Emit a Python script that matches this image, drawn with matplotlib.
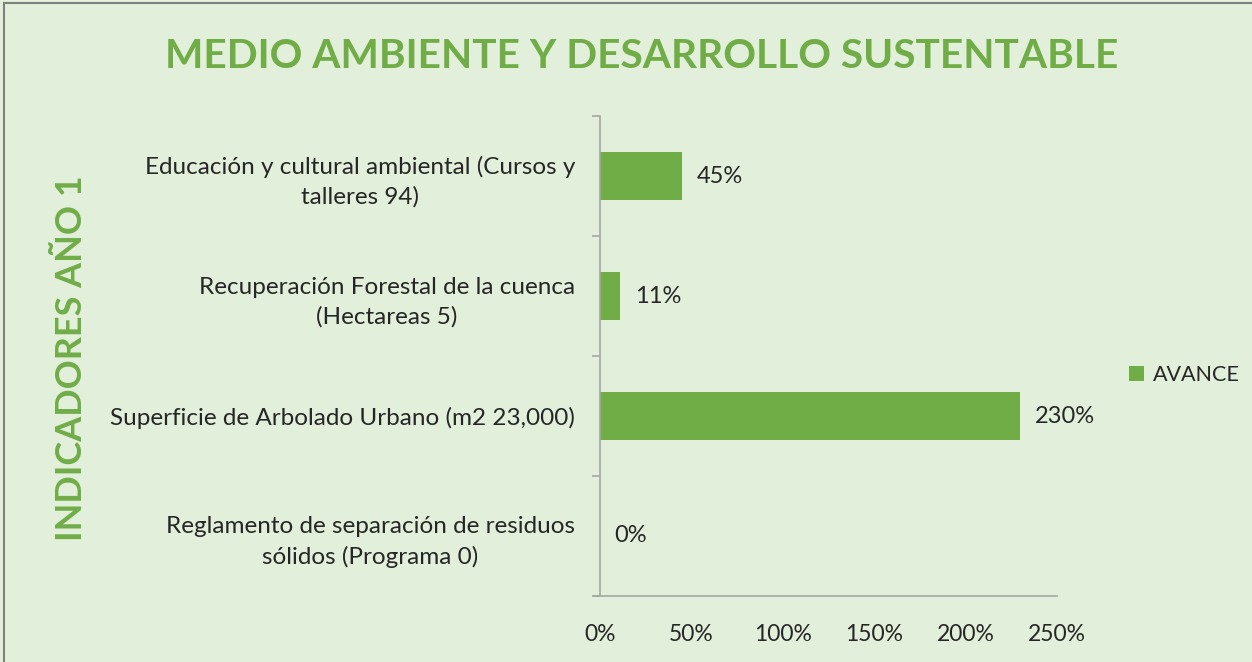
import matplotlib
matplotlib.use("Agg")
import matplotlib.pyplot as plt
from matplotlib.ticker import FuncFormatter, FixedLocator
from matplotlib.lines import Line2D
from matplotlib.patches import Patch

categories = [
    "Reglamento de separación de residuos\nsólidos (Programa 0)",
    "Superficie de Arbolado Urbano (m2 23,000)",
    "Recuperación Forestal de la cuenca\n(Hectareas 5)",
    "Educación y cultural ambiental (Cursos y\ntalleres 94)",
]
avance = [0.0, 2.30, 0.11, 0.45]
value_labels = ["0%", "230%", "11%", "45%"]
xticks = [0, 0.5, 1.0, 1.5, 2.0, 2.5]

BG = "#E2EFDA"
GREEN = "#70AD47"
FONT = "Lato"
TXT = "#262626"

fig = plt.figure(figsize=(12.52, 6.62), dpi=100, facecolor=BG)
ax = fig.add_axes([600/1252, 1-596/662, 457/1252, 480/662], facecolor=BG)

y = range(len(categories))
ax.barh(y, avance, height=0.4, color=GREEN, zorder=2)

for yi, v, lab in zip(y, avance, value_labels):
    ax.text(v + 0.08, yi, lab, va="center", ha="left", fontsize=17,
            family=FONT, color=TXT)

ax.set_xlim(0, 2.5)
ax.set_ylim(-0.5, len(categories) - 0.5)
ax.xaxis.set_major_locator(FixedLocator(xticks))
ax.xaxis.set_major_formatter(FuncFormatter(lambda v, p: f"{v*100:.0f}%"))
ax.tick_params(axis="x", length=0, pad=20, labelsize=16.5, labelcolor=TXT)
for t in ax.get_xticklabels():
    t.set_family(FONT)

ax.set_yticks(list(y))
ax.set_yticklabels(categories, family=FONT, fontsize=17.5, color=TXT,
                   ha="right", multialignment="center", linespacing=1.45)
ax.tick_params(axis="y", which="major", length=0, pad=18)
ax.set_yticks([i - 0.5 for i in range(len(categories) + 1)], minor=True)
ax.tick_params(axis="y", which="minor", length=6, width=1.2, color="#A6A6A6", direction="out")

for s in ["top", "right"]:
    ax.spines[s].set_visible(False)
ax.spines["left"].set_color("#A6A6A6")
ax.spines["left"].set_linewidth(1.2)
ax.spines["bottom"].set_color("#A6A6A6")
ax.spines["bottom"].set_linewidth(1.2)
ax.spines["bottom"].set_bounds(-0.035, 2.5)

title = fig.text(642/1252, 1-56/662, "MEDIO AMBIENTE Y DESARROLLO SUSTENTABLE",
                 ha="center", va="center", fontsize=30, fontweight="bold",
                 color=GREEN, family=FONT)
ylab = fig.text(72/1252, 1-358/662, "INDICADORES AÑO 1", rotation=90,
                ha="center", va="center", fontsize=26, fontweight="bold",
                color=GREEN, family=FONT)

handles = [Patch(facecolor=GREEN, edgecolor="none")]
fig.legend(handles, ["AVANCE"], loc="center left", bbox_to_anchor=(1110/1252, 1-375/662),
           frameon=False, prop={"family": FONT, "size": 15.5},
           handlelength=0.7, handleheight=0.7, handletextpad=0.4, labelcolor=TXT)

fig.add_artist(Line2D([4/1252, 1], [1-3/662, 1-3/662], color="#808080", lw=1.5))
fig.add_artist(Line2D([4/1252, 4/1252], [0, 1-3/662], color="#808080", lw=1.5))

# fit title width and vertical label length to the reference
fig.canvas.draw()
r = fig.canvas.get_renderer()
w = title.get_window_extent(r).width
title.set_fontsize(title.get_fontsize() * 953 / w)
h = ylab.get_window_extent(r).height
ylab.set_fontsize(ylab.get_fontsize() * 365 / h)

fig.savefig("out.png", dpi=100, facecolor=BG)
